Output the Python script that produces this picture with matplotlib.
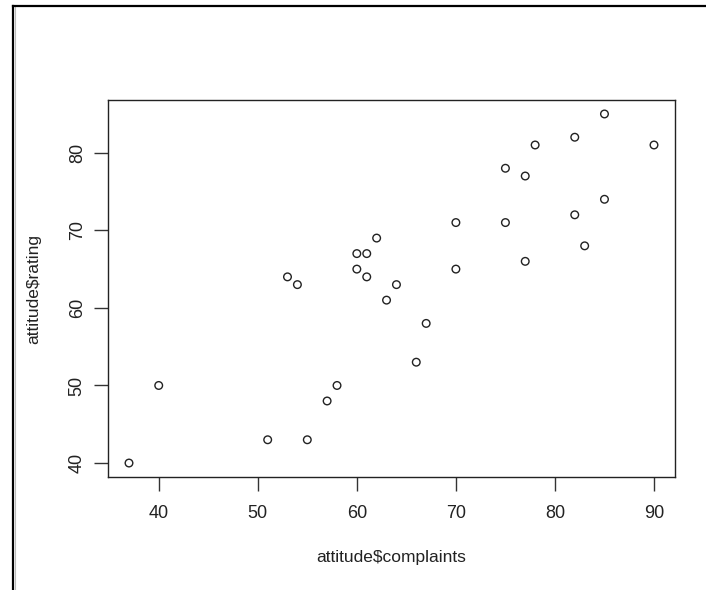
import matplotlib
matplotlib.use("Agg")
import matplotlib.pyplot as plt
from matplotlib.lines import Line2D

plt.rcParams['font.family'] = ['Liberation Sans', 'DejaVu Sans']

# attitude data set: complaints vs overall rating
complaints = [51, 64, 70, 63, 78, 55, 67, 75, 82, 61, 53, 60, 62, 83, 77,
              90, 85, 60, 70, 58, 40, 61, 66, 37, 54, 77, 75, 57, 85, 82]
rating = [43, 63, 71, 61, 81, 43, 58, 71, 72, 67, 64, 67, 69, 68, 77,
          81, 74, 65, 65, 50, 50, 64, 53, 40, 63, 66, 78, 48, 85, 82]
xticks = [40, 50, 60, 70, 80, 90]
yticks = [40, 50, 60, 70, 80]

W, H = 706, 590
fig = plt.figure(figsize=(W / 100, H / 100), dpi=100)
fig.patch.set_facecolor('white')

# axes box in pixels: left, top, right, bottom
l, t, r, b = 108, 100, 675, 477
ax = fig.add_axes([l / W, 1 - b / H, (r - l) / W, (b - t) / H])

ax.scatter(complaints, rating, s=30, facecolors='none', edgecolors='#222222',
           linewidths=1.0, zorder=3)

# R-style 4% padding on both axes
def padded(v):
    lo, hi = min(v), max(v)
    d = (hi - lo) * 0.04
    return lo - d, hi + d

ax.set_xlim(*padded(complaints))
ax.set_ylim(*padded(rating))
ax.set_xticks(xticks)
ax.set_yticks(yticks)
ax.set_yticklabels([str(v) for v in yticks], rotation=90, va='center')
ax.tick_params(axis='both', length=10, width=1, color='#333333',
               labelsize=13, labelcolor='#222222')
ax.tick_params(axis='x', pad=10)
ax.tick_params(axis='y', pad=6)
for sp in ax.spines.values():
    sp.set_color('#222222')
    sp.set_linewidth(1.0)

ax.set_xlabel('attitude$complaints', fontsize=12.5, color='#222222', labelpad=20)
ax.set_ylabel('attitude$rating', fontsize=12.5, color='#222222', labelpad=20)

# window frame lines on the left and top edges
fig.add_artist(Line2D([13 / W, 13 / W], [0, 1 - 6 / H], color='black', lw=1.6))
fig.add_artist(Line2D([15 / W, 15 / W], [0, 1 - 7 / H], color='#bbbbbb', lw=0.8))
fig.add_artist(Line2D([13 / W, 1], [1 - 6 / H, 1 - 6 / H], color='black', lw=1.6))

fig.savefig('out.png', dpi=100)
